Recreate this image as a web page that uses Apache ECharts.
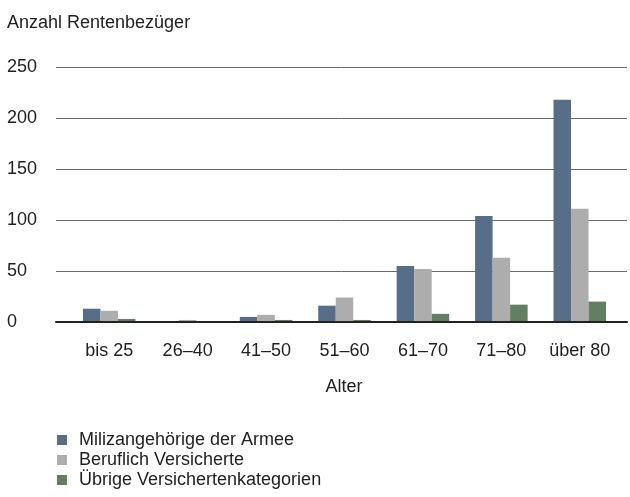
<!DOCTYPE html>
<html>
<head>
<meta charset="utf-8">
<script src="https://cdn.jsdelivr.net/npm/echarts@6/dist/echarts.min.js"></script>
<style>
  html, body { margin: 0; padding: 0; background: #fff; }
  #chart { width: 630px; height: 497px; }
</style>
</head>
<body>
<div id="chart"></div>
<script>
const categories = ['bis 25', '26\u201340', '41\u201350', '51\u201360', '61\u201370', '71\u201380', '\u00fcber 80'];
const miliz = [13, 0, 5, 16, 55, 104, 218];
const beruflich = [11, 2, 7, 24, 52, 63, 111];
const uebrige = [3, 0, 2, 2, 8, 17, 20];
const seriesNames = ['Milizangeh\u00f6rige der Armee', 'Beruflich Versicherte', '\u00dcbrige Versichertenkategorien'];
const colors = ['#566e87', '#adadad', '#627f64'];

const font = 'Liberation Sans, Arial, sans-serif';
const chart = echarts.init(document.getElementById('chart'));

function bar(name, data, color) {
  return {
    name,
    type: 'bar',
    xAxisIndex: 1,
    yAxisIndex: 1,
    data,
    barGap: '0%',
    barCategoryGap: '33%',
    itemStyle: { color },
  };
}

chart.setOption({
  animation: false,
  textStyle: { fontFamily: font },
  graphic: [
    {
      type: 'text', x: 7, y: 23,
      style: { text: 'Anzahl Rentenbez\u00fcger', fontSize: 18, fontFamily: font, fill: '#222', verticalAlign: 'middle' },
    },
    {
      type: 'text', x: 344, y: 387,
      style: { text: 'Alter', fontSize: 18, fontFamily: font, fill: '#222', align: 'center', verticalAlign: 'middle' },
    },
  ],
  grid: [
    { left: 56, right: 3, top: 67, bottom: 175 },
    { left: 70, right: 11, top: 67, bottom: 175 },
  ],
  xAxis: [
    {
      gridIndex: 0, type: 'value', min: 0, max: 1,
      axisLine: { show: true, lineStyle: { color: '#222', width: 2 } },
      axisTick: { show: false }, axisLabel: { show: false }, splitLine: { show: false },
      z: 5,
    },
    {
      gridIndex: 1, type: 'category', data: categories,
      axisLine: { show: false }, axisTick: { show: false },
      axisLabel: { interval: 0, fontSize: 18, color: '#222', margin: 20, fontFamily: font },
    },
  ],
  yAxis: [
    {
      gridIndex: 0, type: 'value', min: 0, max: 250, interval: 50,
      axisLine: { show: false }, axisTick: { show: false },
      axisLabel: { fontSize: 18, color: '#222', align: 'left', margin: 49, fontFamily: font },
      splitLine: { show: true, lineStyle: { color: '#6a6a6a', width: 1 } },
    },
    {
      gridIndex: 1, type: 'value', min: 0, max: 250, interval: 50, show: false,
      splitLine: { show: false },
    },
  ],
  legend: {
    orient: 'vertical',
    left: 57, top: 431, height: 80,
    padding: 0,
    itemWidth: 10, itemHeight: 10, itemGap: 2,
    icon: 'rect',
    textStyle: { fontSize: 18, lineHeight: 18, color: '#222', fontFamily: font, padding: [0, 0, 0, 7] },
    data: seriesNames,
  },
  series: [
    bar(seriesNames[0], miliz, colors[0]),
    bar(seriesNames[1], beruflich, colors[1]),
    bar(seriesNames[2], uebrige, colors[2]),
  ],
});
</script>
</body>
</html>
